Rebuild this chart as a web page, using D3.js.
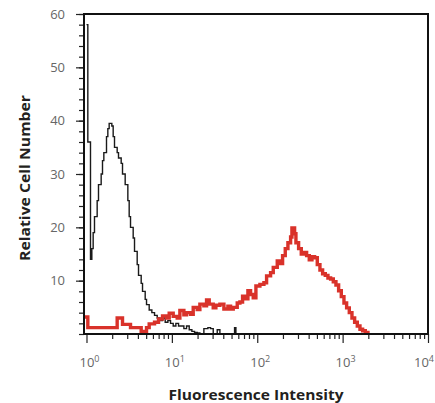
<!DOCTYPE html>
<html>
<head>
<meta charset="utf-8">
<style>
  body { margin:0; background:#fff; }
  svg { display:block; }
</style>
<script src="https://cdn.jsdelivr.net/npm/d3@7/dist/d3.min.js"></script>
</head>
<body>
<svg id="chart" width="435" height="403"></svg>
<script>
// channels: 64 per decade, channel 0 = 10^0
var isoChannel = [0, 1, 3, 4, 5, 6, 8, 9, 11, 12, 13, 15, 16, 17, 19, 20, 21, 23, 24, 26, 27, 29, 31, 32, 33, 35, 36, 38, 39, 41, 42, 44, 45, 47, 49, 51, 53, 55, 57, 59, 61, 63, 65, 67, 69, 71, 73, 75, 77, 79, 81, 83, 85, 88, 91, 93, 95, 98, 100, 111, 112, 114];
var isoCount   = [58, 36, 14, 16, 19, 22, 25, 28, 30, 32.5, 34, 37, 38.5, 39.5, 39, 37, 35, 34, 33, 32, 30, 28, 25, 22, 20, 18, 15.5, 13, 11, 9.5, 8, 6.5, 5.5, 4.5, 4, 3.5, 3, 2.5, 3, 2.2, 2.5, 2, 1.5, 2, 1.5, 1.5, 1, 1.5, 0.8, 0.5, 0.3, 0.2, 0, 1, 1.2, 1, 0, 0.8, 0, 1.2, 0, 0];

var stainChannel = [-2, 1, 23, 27, 33, 41, 45, 47, 51, 54, 57, 60, 62, 65, 68, 70, 73, 75, 78, 80, 83, 85, 88, 90, 92, 95, 97, 100, 103, 106, 108, 110, 113, 115, 117, 119, 121, 123, 125, 127, 130, 133, 135, 138, 140, 143, 145, 147, 149, 151, 153, 154, 156, 157, 159, 161, 163, 165, 167, 169, 171, 173, 175, 177, 179, 181, 183, 185, 187, 189, 191, 193, 195, 197, 199, 201, 203, 205, 207, 209, 211];
var stainCount   = [3.2, 1.2, 3.0, 1.8, 1.2, 0.5, 1.2, 1.9, 2.2, 2.8, 3.4, 3.0, 3.9, 3.3, 3.0, 4.4, 3.6, 4.0, 3.7, 5.0, 4.6, 5.6, 5.3, 6.4, 5.6, 4.9, 5.4, 5.6, 4.7, 5.2, 4.7, 5.0, 5.8, 6.0, 7.1, 6.6, 8.1, 7.4, 6.8, 9.0, 9.3, 9.6, 10.9, 11.5, 12.5, 13.7, 13.2, 14.7, 16, 17.1, 18.2, 19.9, 18.8, 17.1, 16, 15, 15.3, 14.7, 13.9, 14.5, 14.3, 13, 12, 11.3, 11.0, 10.5, 10.3, 9.8, 9.2, 8.1, 7.0, 5.8, 4.9, 4.0, 3.0, 2.2, 1.5, 0.9, 0.6, 0.3, 0];

var yMajor = [10, 20, 30, 40, 50, 60];
var xMajor = [1, 10, 100, 1000, 10000];
var xExp = ["0", "1", "2", "3", "4"];

var mLeft = 84, mRight = 428, mTop = 14, mBottom = 334;
var svg = d3.select("#chart");

var x = d3.scaleLog().domain([0.935, 10000]).range([mLeft, mRight]);
var y = d3.scaleLinear().domain([0, 60]).range([mBottom, mTop]);

function chToInt(c){ return Math.pow(10, c/64); }

svg.append("clipPath").attr("id", "clip")
  .append("rect").attr("x", mLeft).attr("y", mTop - 2).attr("width", mRight - mLeft).attr("height", mBottom - mTop + 2);

var line = d3.line()
  .x(function(d){ return x(chToInt(d[0])); })
  .y(function(d){ return y(d[1]); })
  .curve(d3.curveStepAfter);

var plot = svg.append("g").attr("clip-path", "url(#clip)");
plot.append("path")
  .datum(d3.zip(isoChannel, isoCount))
  .attr("d", line)
  .attr("fill", "none")
  .attr("stroke", "#1a1a1a")
  .attr("stroke-width", 1.4);
plot.append("path")
  .datum(d3.zip(stainChannel, stainCount))
  .attr("d", line)
  .attr("fill", "none")
  .attr("stroke", "#d9322a")
  .attr("stroke-width", 3.4);

// y axis ticks
var yMinor = d3.range(0, 61, 2);
svg.append("g").attr("transform", "translate(" + mLeft + ",0)")
  .call(d3.axisLeft(y).tickValues(yMinor).tickSize(5).tickFormat(""))
  .call(function(g){ g.select(".domain").remove(); g.selectAll("line").attr("stroke", "#222").attr("stroke-width", 1.2); });
var yAx = svg.append("g").attr("transform", "translate(" + mLeft + ",0)")
  .call(d3.axisLeft(y).tickValues(yMajor).tickSize(8).tickPadding(11))
  .call(function(g){ g.select(".domain").remove(); g.selectAll("line").attr("stroke", "#222").attr("stroke-width", 1.2); });
yAx.selectAll("text")
  .attr("font-family", "Open Sans").attr("font-size", 13).attr("fill", "#666");

// x axis ticks
var xMinor = [];
xMajor.slice(0, 4).forEach(function(d){ for (var k = 2; k < 10; k++) xMinor.push(d * k); });
svg.append("g").attr("transform", "translate(0," + mBottom + ")")
  .call(d3.axisBottom(x).tickValues(xMinor).tickSize(5).tickFormat(""))
  .call(function(g){ g.select(".domain").remove(); g.selectAll("line").attr("stroke", "#222").attr("stroke-width", 1.2); });
svg.append("g").attr("transform", "translate(0," + mBottom + ")")
  .call(d3.axisBottom(x).tickValues(xMajor).tickSize(9).tickFormat(""))
  .call(function(g){ g.select(".domain").remove(); g.selectAll("line").attr("stroke", "#222").attr("stroke-width", 1.2); });

var xl = svg.append("g").selectAll("text").data(xMajor).join("text")
  .attr("x", function(d, i){ return x(d) + (i < 4 ? 3 : -4); })
  .attr("y", 367)
  .attr("text-anchor", "middle")
  .attr("font-family", "Open Sans").attr("font-size", 13).attr("fill", "#666");
xl.append("tspan").text("10");
xl.append("tspan").attr("dy", -5).attr("font-size", 9).text(function(d, i){ return xExp[i]; });

// frame
svg.append("rect")
  .attr("x", mLeft).attr("y", mTop).attr("width", mRight - mLeft).attr("height", mBottom - mTop)
  .attr("fill", "none").attr("stroke", "#111").attr("stroke-width", 2);

// titles
svg.append("text")
  .attr("x", 256).attr("y", 400)
  .attr("text-anchor", "middle")
  .attr("font-family", "Open Sans").attr("font-weight", "bold").attr("font-size", 15)
  .attr("fill", "#231f20")
  .attr("textLength", 175).attr("lengthAdjust", "spacingAndGlyphs")
  .text("Fluorescence Intensity");
svg.append("text")
  .attr("transform", "translate(30,178) rotate(-90)")
  .attr("text-anchor", "middle")
  .attr("font-family", "Open Sans").attr("font-weight", "bold").attr("font-size", 15)
  .attr("fill", "#231f20")
  .attr("textLength", 166).attr("lengthAdjust", "spacingAndGlyphs")
  .text("Relative Cell Number");
</script>
</body>
</html>
